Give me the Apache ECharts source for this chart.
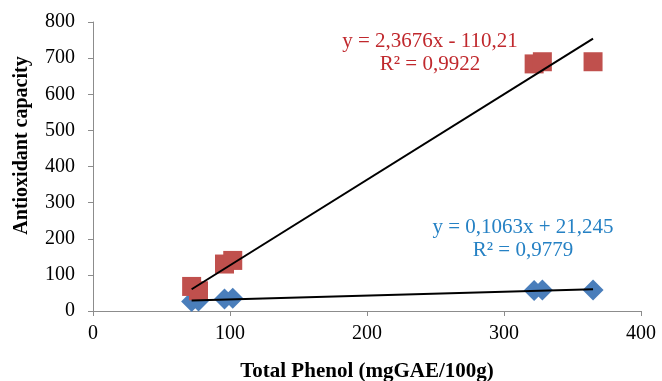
<!DOCTYPE html>
<html>
<head>
<meta charset="utf-8">
<script src="https://cdn.jsdelivr.net/npm/echarts@6/dist/echarts.min.js"></script>
<style>
  html, body { margin: 0; padding: 0; background: #fff; }
  #chart { width: 662px; height: 381px; }
</style>
</head>
<body>
<div id="chart"></div>
<script>
// Total phenol of each sample (x)
const phenol = [72, 77, 96, 102, 322, 328, 365];
// two antioxidant assays (y)
const redValues = [68, 56, 130, 140, 684, 690, 690];
const blueValues = [26, 28, 33, 35, 57, 58, 58];

// trendline coefficients as printed on the chart
const redSlope = 2.3676, redIntercept = -110.21;
const blueSlope = 0.1063, blueIntercept = 21.245;
const redEq = ['y = 2,3676x - 110,21', 'R² = 0,9922'];
const blueEq = ['y = 0,1063x + 21,245', 'R² = 0,9779'];

const xTicks = [0, 100, 200, 300, 400];
const yTicks = [0, 100, 200, 300, 400, 500, 600, 700, 800];

const serif = '"Liberation Serif", "Times New Roman", serif';

function pairs(xs, ys) {
  return xs.map((x, i) => [x, ys[i]]);
}

function trend(slope, intercept) {
  let lo = Math.min(...phenol), hi = Math.max(...phenol);
  return [[lo, slope * lo + intercept], [hi, slope * hi + intercept]];
}

let myChart = echarts.init(document.getElementById('chart'));

let axisLine = { show: true, lineStyle: { color: '#8c8c8c', width: 1 } };

let option = {
  animation: false,
  grid: { left: 93, right: 21, top: 22, bottom: 70, outerBoundsMode: 'none' },
  xAxis: {
    type: 'value',
    min: xTicks[0],
    max: xTicks[xTicks.length - 1],
    interval: 100,
    name: 'Total Phenol (mgGAE/100g)',
    nameLocation: 'middle',
    nameGap: 50,
    nameTextStyle: { fontFamily: serif, fontWeight: 'bold', fontSize: 21, color: '#000' },
    axisLine: axisLine,
    axisTick: { show: true, length: 5, lineStyle: { color: '#8c8c8c' } },
    axisLabel: { fontFamily: serif, fontSize: 20, color: '#000', margin: 13 },
    splitLine: { show: false },
  },
  yAxis: {
    type: 'value',
    min: yTicks[0],
    max: yTicks[yTicks.length - 1],
    interval: 100,
    name: 'Antioxidant capacity',
    nameLocation: 'middle',
    nameGap: 61,
    nameTextStyle: { fontFamily: serif, fontWeight: 'bold', fontSize: 20, color: '#000', padding: [0, 0, 0, 42] },
    axisLine: axisLine,
    axisTick: { show: true, length: 5, lineStyle: { color: '#8c8c8c' } },
    axisLabel: { fontFamily: serif, fontSize: 20, color: '#000', margin: 18 },
    splitLine: { show: false },
  },
  graphic: [
    {
      type: 'text', x: 430, y: 30,
      style: { text: redEq.join('\n'), fill: '#c0282d', font: '21px ' + serif, align: 'center', lineHeight: 23 },
    },
    {
      type: 'text', x: 523, y: 216,
      style: { text: blueEq.join('\n'), fill: '#2581c4', font: '21px ' + serif, align: 'center', lineHeight: 23 },
    },
  ],
  series: [
    {
      name: 'blue',
      type: 'scatter',
      symbol: 'diamond',
      symbolSize: [21, 21],
      itemStyle: { color: '#4a7ebb', opacity: 1 },
      data: pairs(phenol, blueValues),
      z: 2,
    },
    {
      name: 'red',
      type: 'scatter',
      symbol: 'rect',
      symbolSize: 19,
      itemStyle: { color: '#c0504d', opacity: 1 },
      data: pairs(phenol, redValues),
      z: 2,
    },
    {
      name: 'redTrend',
      type: 'line',
      data: trend(redSlope, redIntercept),
      symbol: 'none',
      lineStyle: { color: '#000', width: 2 },
      z: 3,
    },
    {
      name: 'blueTrend',
      type: 'line',
      data: trend(blueSlope, blueIntercept),
      symbol: 'none',
      lineStyle: { color: '#000', width: 2 },
      z: 3,
    },
  ],
};

myChart.setOption(option);
</script>
</body>
</html>
